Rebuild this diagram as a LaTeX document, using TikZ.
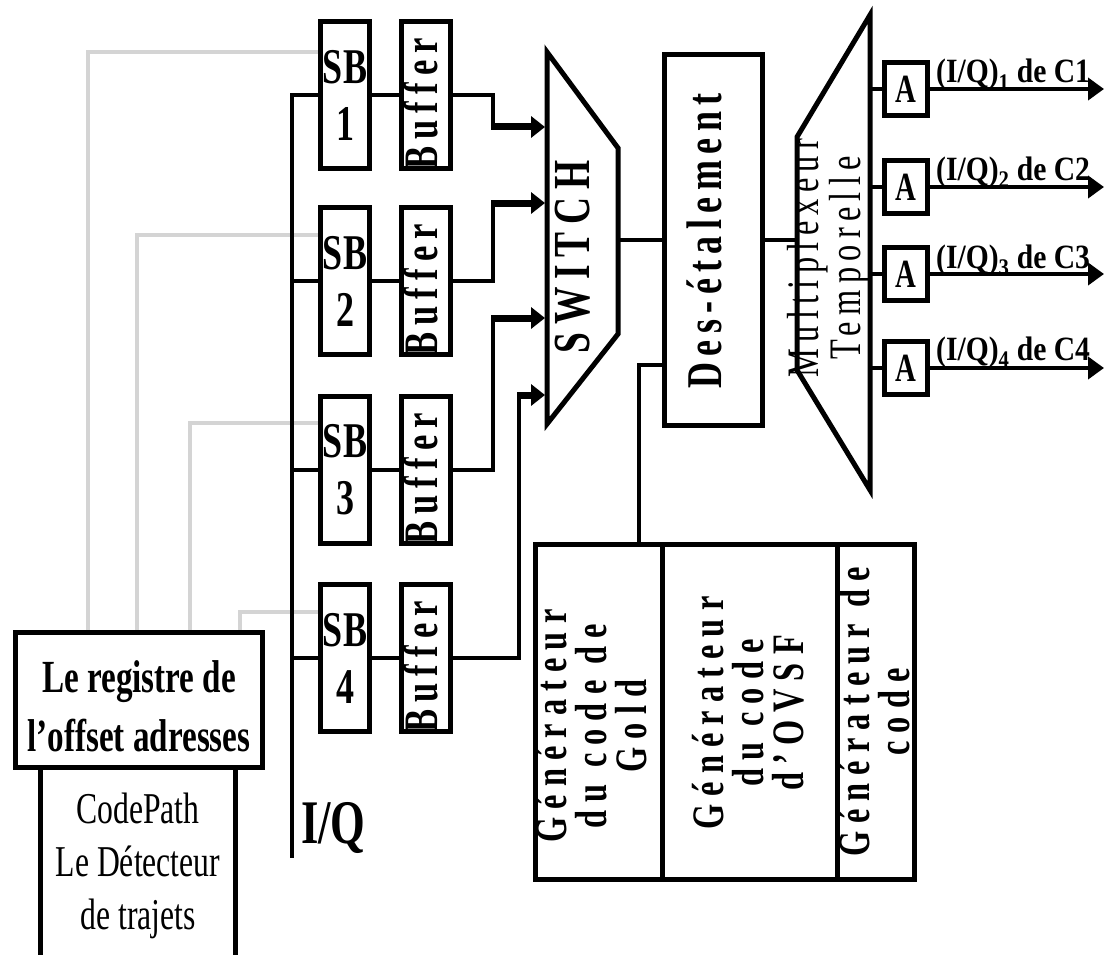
\documentclass[tikz,border=0pt]{standalone}
\usepackage{fontspec}
\setmainfont{Liberation Serif}[FakeStretch=0.72]
\newfontfamily\lblfont{Liberation Serif}[FakeStretch=0.87]
\usetikzlibrary{arrows.meta,calc}
\definecolor{graywire}{HTML}{D4D4D4}
\tikzset{
 box/.style={draw, line width=5pt, inner sep=0pt},
 wire/.style={line width=4pt},
 gwire/.style={line width=4pt, draw=graywire},
 inarrow/.style={line width=7pt, -{Triangle[length=14pt,width=21pt]}},
 outarrow/.style={wire, -{Triangle[length=16pt,width=22pt]}},
 sbbox/.style={box, minimum width=49pt, minimum height=147pt, align=center,
   font={\bfseries\fontsize{50}{57}\selectfont}},
 bufbox/.style={box, minimum width=49pt, minimum height=147pt},
 buftxt/.style={rotate=90, inner sep=0pt,
   font={\bfseries\fontsize{48}{48}\selectfont\addfontfeature{LetterSpace=15}}},
 swtxt/.style={rotate=90, inner sep=0pt,
   font={\bfseries\fontsize{52}{52}\selectfont\addfontfeature{LetterSpace=15}}},
 destxt/.style={rotate=90, inner sep=0pt,
   font={\bfseries\fontsize{50}{50}\selectfont\addfontfeature{LetterSpace=13}}},
 muxtxt/.style={rotate=90, inner sep=0pt, align=center,
   font={\fontsize{45}{33}\selectfont\addfontfeature{LetterSpace=14}}},
 gentxt/.style={rotate=90, inner sep=0pt, align=center,
   font={\bfseries\fontsize{45}{40}\selectfont\addfontfeature{LetterSpace=18}}},
 abox/.style={box, minimum width=43pt, minimum height=53pt,
   font={\bfseries\fontsize{40}{40}\selectfont}},
 lbl/.style={anchor=base west, inner sep=0pt,
   font={\lblfont\bfseries\fontsize{34}{34}\selectfont}},
 regtxt/.style={align=center, font={\bfseries\fontsize{46}{59}\selectfont}},
 cptxt/.style={align=center, inner sep=0pt, font={\fontsize{44}{53}\selectfont}},
}
\begin{document}
\begin{tikzpicture}[x=1pt,y=-1pt]
\useasboundingbox (0,0) rectangle (1105,955);

% gray control lines
\coordinate (g1) at (88,52);
\coordinate (g2) at (137,235);
\coordinate (g3) at (190,423);
\coordinate (g4) at (240,612);

% SB boxes
\node[sbbox] (sb1) at (345,95) {SB\\1};
\node[sbbox] (sb2) at (345,281) {SB\\2};
\node[sbbox] (sb3) at (345,470) {SB\\3};
\node[sbbox] (sb4) at (345,658) {SB\\4};

% Buffer boxes
\node[bufbox] (bf1) at (426,95) {};
\node[bufbox] (bf2) at (426,281) {};
\node[bufbox] (bf3) at (426,470) {};
\node[bufbox] (bf4) at (426,658) {};
\node[buftxt] (bt1) at (421,104) {Buffer};
\node[buftxt] (bt2) at (421,290) {Buffer};
\node[buftxt] (bt3) at (421,479) {Buffer};
\node[buftxt] (bt4) at (421,667) {Buffer};

% register and path detector
\node[box, minimum width=247pt, minimum height=135pt] (reg) at (139,700) {};
\node[regtxt] (regt) at (139,706) {Le registre de\\l'offset adresses};
\node[box, minimum width=195pt, minimum height=240pt, anchor=north] (cp) at ($(reg.south)+(-1,-5)$) {};
\node[cptxt] (cpt) at (138,866) {CodePath\\Le Détecteur\\de trajets};

\draw[gwire] (g1 -| sb1.west) -- (g1) -- (g1 |- reg.north);
\draw[gwire] (g2 -| sb2.west) -- (g2) -- (g2 |- reg.north);
\draw[gwire] (g3 -| sb3.west) -- (g3) -- (g3 |- reg.north);
\draw[gwire] (g4 -| sb4.west) -- (g4) -- (g4 |- reg.north);

% I/Q bus
\coordinate (busT) at (292,95);
\coordinate (busB) at (292,858);
\draw[wire] (sb1.west) -- (busT) -- (busB);
\draw[wire] (sb2.west) -- (sb2.west -| busT);
\draw[wire] (sb3.west) -- (sb3.west -| busT);
\draw[wire] (sb4.west) -- (sb4.west -| busT);
\node[anchor=base west, inner sep=0pt, font={\bfseries\fontsize{62}{62}\selectfont}] (iq) at (301,843) {I/Q};

% SB -> buffer
\draw[wire] (sb1.east) -- (bf1.west);
\draw[wire] (sb2.east) -- (bf2.west);
\draw[wire] (sb3.east) -- (bf3.west);
\draw[wire] (sb4.east) -- (bf4.west);

% switch
\draw[line width=5pt, line join=miter] (547,52) -- (618,148) -- (618,334) -- (547,424) -- cycle;
\node[swtxt] (swt) at (573,257) {SWITCH};
\coordinate (in1) at (545,127);
\coordinate (in2) at (545,203);
\coordinate (in3) at (545,318);
\coordinate (in4) at (545,395);
\coordinate (c1) at (493,127);
\coordinate (c2) at (493,203);
\coordinate (c3) at (493,318);
\coordinate (c4) at (519,395);
\draw[wire] (bf1.east) -| (c1);
\draw[wire] (bf2.east) -| (c2);
\draw[wire] (bf3.east) -| (c3);
\draw[wire] (bf4.east) -| (c4);
\draw[inarrow] ([xshift=-2pt]c1) -- (in1);
\draw[inarrow] ([xshift=-2pt]c2) -- (in2);
\draw[inarrow] ([xshift=-2pt]c3) -- (in3);
\draw[inarrow] ([xshift=-2pt]c4) -- (in4);

% despreading
\node[box, minimum width=98pt, minimum height=371pt] (des) at (713.5,240) {};
\node[destxt] (dest) at (704,241) {Des-étalement};
\coordinate (swout) at (618,240);
\draw[wire] (swout) -- (des.west);

% multiplexer
\draw[line width=5pt, line join=miter] (870,15) -- (797,137) -- (797,370) -- (870,490) -- cycle;
\node[muxtxt] (muxt) at (829,258) {Multiplexeur\\Temporelle};
\coordinate (muxin) at (797,240);
\draw[wire] (des.east) -- (muxin);
\coordinate (muxR) at (870,0);
\coordinate (outR) at (1104,0);

% A boxes and outputs
\node[abox] (a1) at (906,89) {A};
\node[abox] (a2) at (906,187) {A};
\node[abox] (a3) at (906,274) {A};
\node[abox] (a4) at (906,368) {A};
\draw[wire] (a1.west -| muxR) -- (a1.west);
\draw[wire] (a2.west -| muxR) -- (a2.west);
\draw[wire] (a3.west -| muxR) -- (a3.west);
\draw[wire] (a4.west -| muxR) -- (a4.west);
\draw[outarrow] (a1.east) -- (a1.east -| outR);
\draw[outarrow] (a2.east) -- (a2.east -| outR);
\draw[outarrow] (a3.east) -- (a3.east -| outR);
\draw[outarrow] (a4.east) -- (a4.east -| outR);
\node[lbl] (l1) at (936,83) {(I/Q)\textsubscript{1} de C1};
\node[lbl] (l2) at (936,180) {(I/Q)\textsubscript{2} de C2};
\node[lbl] (l3) at (936,268) {(I/Q)\textsubscript{3} de C3};
\node[lbl] (l4) at (936,360) {(I/Q)\textsubscript{4} de C4};

% code generators
\node[box, minimum width=379pt, minimum height=335pt] (gen) at (725,712) {};
\coordinate (d1) at (662,0);
\coordinate (d2) at (837,0);
\draw[line width=5pt] (gen.north -| d1) -- (gen.south -| d1);
\draw[line width=5pt] (gen.north -| d2) -- (gen.south -| d2);
\node[gentxt] (gt1) at (591,726) {Générateur\\du code de\\Gold};
\node[gentxt] (gt2) at (748,713) {Générateur\\du code\\d'OVSF};
\node[gentxt] (gt3) at (874,712) {Générateur de\\code};
\coordinate (gk) at (639,365);
\draw[wire] (des.west |- gk) -- (gk) -- (gk |- gen.north);
\end{tikzpicture}
\end{document}
